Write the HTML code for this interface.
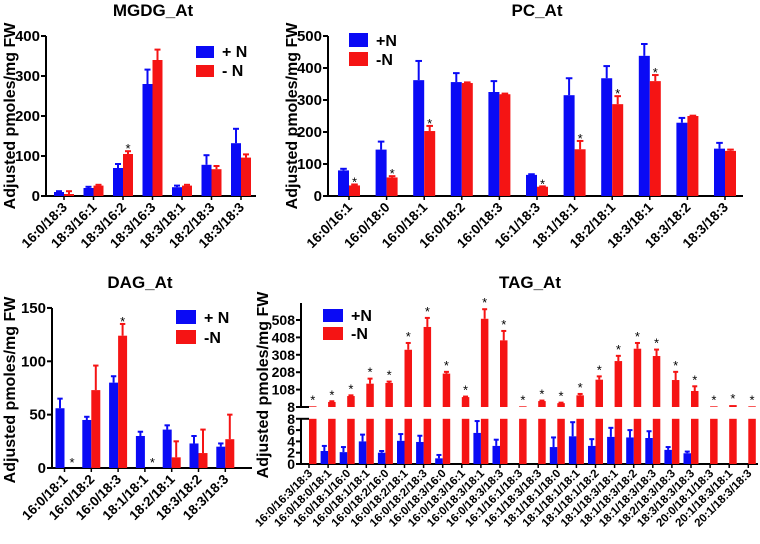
<!DOCTYPE html>
<html><head><meta charset="utf-8"><style>
html,body{margin:0;padding:0;background:#fff;}
svg{display:block;font-family:"Liberation Sans",Arial,sans-serif;font-weight:bold;}
</style></head><body>
<svg id="fig" width="760" height="544" viewBox="0 0 760 544" xmlns="http://www.w3.org/2000/svg"></svg>
<script>
// ---------- MGDG ----------
const mgdgCats = ["16:0/18:3","18:3/16:1","18:3/16:2","18:3/16:3","18:3/18:1","18:2/18:3","18:3/18:3"];
const mgdgPlus = [10,20,70,280,22,78,132];
const mgdgPlusErr = [2,3,10,36,4,24,36];
const mgdgMinus = [5,26,105,340,26,67,96];
const mgdgMinusErr = [7,2,7,26,2,8,8];
const mgdgStars = [0,0,1,0,0,0,0];
const mgdgTicks = [0,100,200,300,400];
// ---------- PC ----------
const pcCats = ["16:0/16:1","16:0/18:0","16:0/18:1","16:0/18:2","16:0/18:3","16:1/18:3","18:1/18:1","18:2/18:1","18:3/18:1","18:3/18:2","18:3/18:3"];
const pcPlus = [80,145,362,356,325,66,315,368,438,229,148];
const pcPlusErr = [5,25,60,28,34,2,53,38,37,15,18];
const pcMinus = [33,58,203,353,318,29,146,287,359,250,141];
const pcMinusErr = [3,4,16,2,2,1,26,25,19,1,4];
const pcStars = [1,1,1,0,0,1,1,1,1,0,0];
const pcTicks = [0,100,200,300,400,500];
// ---------- DAG ----------
const dagCats = ["16:0/18:1","16:0/18:2","16:0/18:3","18:1/18:1","18:2/18:1","18:3/18:2","18:3/18:3"];
const dagPlus = [56,45,80,30,36,23,20];
const dagPlusErr = [9,3,6,4,4,7,3];
const dagMinus = [0,73,124,0,10,14,27];
const dagMinusErr = [0,23,11,0,15,22,23];
const dagStars = [1,0,1,1,0,0,0];
const dagTicks = [0,50,100,150];
// ---------- TAG ----------
const tagCats = ["16:0/16:3/18:3","16:0/18:0/18:1","16:0/18:1/16:0","16:0/18:1/18:1","16:0/18:2/16:0","16:0/18:2/18:1","16:0/18:2/18:3","16:0/18:3/16:0","16:0/18:3/16:1","16:0/18:3/18:1","16:0/18:3/18:3","16:1/16:1/18:3","16:1/18:3/18:3","18:1/18:1/18:0","18:1/18:1/18:1","18:1/18:1/18:2","18:1/18:3/18:1","18:1/18:3/18:2","18:1/18:3/18:3","18:2/18:3/18:3","18:3/18:3/18:3","20:0/18:1/18:3","20:1/18:3/18:1","20:1/18:3/18:3"];
const tagPlus = [0,2.3,2.1,4.0,2.0,4.1,3.9,1.0,0,5.5,3.2,0,0,3.0,4.9,3.2,4.8,4.7,4.6,2.5,1.9,0,0,0];
const tagPlusErr = [0,0.9,0.9,1.2,0.3,1.2,1.1,0.6,0,2.1,1.1,0,0,1.7,2.5,1.2,1.6,1.3,1.2,0.5,0.3,0,0,0];
const tagMinus = [12,37,71,142,146,337,468,200,65,515,391,12,42,30,75,165,272,343,301,163,100,12,19,12];
const tagMinusErr = [0,4,4,29,8,39,52,10,3,55,54,0,3,3,8,19,30,33,37,47,27,0,0,0];
const tagTopTicks = [8,108,208,308,408,508];
const tagBotTicks = [0,2,4,6,8];

const NS="http://www.w3.org/2000/svg";
const svg=document.getElementById('fig');
const BLUE="#0a0af5", RED="#f51414";
function mk(tag,attrs,parent){const e=document.createElementNS(NS,tag);for(const k in attrs)e.setAttribute(k,attrs[k]);(parent||svg).appendChild(e);return e;}
function txt(s,attrs,parent){const e=mk('text',attrs,parent);e.textContent=s;return e;}

function errBar(g,x,y0,y1,w,color){
  mk('line',{x1:x,y1:y0,x2:x,y2:y1,stroke:color,'stroke-width':2},g);
  mk('line',{x1:x-w/2,y1:y1,x2:x+w/2,y2:y1,stroke:color,'stroke-width':2},g);
}

function panel(o){
  const g=mk('g',{});
  
  
  const ys=v=>o.y0-(v-o.vmin)*o.k;
  const xs=i=>o.xc0+o.step*i;
  const t=txt(o.title,{x:o.titleX,y:o.titleY,'font-size':17,'text-anchor':'middle'},g);
  
  
  const yl=txt("Adjusted pmoles/mg FW",{x:0,y:0,'font-size':16,'text-anchor':'middle',transform:`translate(${o.ylx},${o.yly}) rotate(-90)`},g);
  
  
  mk('line',{x1:o.ax,y1:ys(o.ticks[o.ticks.length-1]),x2:o.ax,y2:o.y0+1,stroke:'#000','stroke-width':2},g);
  mk('line',{x1:o.ax-1,y1:o.y0,x2:o.axEnd,y2:o.y0,stroke:'#000','stroke-width':2},g);
  o.ticks.forEach(v=>{
    mk('line',{x1:o.ax-5,y1:ys(v),x2:o.ax,y2:ys(v),stroke:'#000','stroke-width':2},g);
    const tl=txt(String(v),{x:o.ax-6,y:ys(v)+5,'font-size':15,'text-anchor':'end'},g);
    
    
  });
  o.cats.forEach((c,i)=>{
    const cx=xs(i);
    mk('line',{x1:cx,y1:o.y0,x2:cx,y2:o.y0+4,stroke:'#000','stroke-width':1.5},g);
    const lab=txt(c,{x:0,y:0,'font-size':o.fs,'text-anchor':'end',transform:`translate(${cx+4},${o.y0+12}) rotate(-45)`},g);
    
    
    const bw=o.bw;
    if(o.plus[i]>0){
      const r=mk('rect',{x:cx-bw,y:ys(o.plus[i]),width:bw,height:o.y0-ys(o.plus[i]),fill:BLUE},g);
      
      
      if(o.plusErr[i]>0)errBar(g,cx-bw/2,ys(o.plus[i]),ys(o.plus[i]+o.plusErr[i]),bw*0.6,BLUE);
    }
    if(o.minus[i]>0){
      const r=mk('rect',{x:cx,y:ys(o.minus[i]),width:bw,height:o.y0-ys(o.minus[i]),fill:RED},g);
      
      
      if(o.minusErr[i]>0)errBar(g,cx+bw/2,ys(o.minus[i]),ys(o.minus[i]+o.minusErr[i]),bw*0.6,RED);
    }
    if(o.stars[i]){
      const top=o.minus[i]>0?ys(o.minus[i]+o.minusErr[i])-6:o.y0-9;
      const s=txt("*",{x:cx+bw/2+(o.minus[i]>0?0:3),y:top+8,'font-size':13,'font-weight':'normal','text-anchor':'middle'},g);
      
      
    }
  });
  legend(g,o.name,o.lx,o.ly,o.lw,o.lh,o.lgap,o.l1,o.l2);
}
function legend(g,name,x,y,w,h,gap,l1,l2){
  const lg=mk('g',{},g);
  
  
  mk('rect',{x:x,y:y,width:w,height:h,fill:BLUE},lg);
  txt(l1,{x:x+w+8,y:y+h-1,'font-size':16},lg);
  mk('rect',{x:x,y:y+gap,width:w,height:h,fill:RED},lg);
  txt(l2,{x:x+w+8,y:y+gap+h-1,'font-size':16},lg);
}

panel({name:'mgdg',title:'MGDG_At',titleX:153,titleY:16,ylx:15,yly:116,cats:mgdgCats,plus:mgdgPlus,plusErr:mgdgPlusErr,minus:mgdgMinus,minusErr:mgdgMinusErr,stars:mgdgStars,ticks:mgdgTicks,
  vmin:0,y0:196,k:0.4,ax:46,axEnd:256,xc0:64,step:29.5,bw:10,fs:13.5,lx:196,ly:46,lw:18,lh:12,lgap:19,l1:'+ N',l2:'- N'});
panel({name:'pc',title:'PC_At',titleX:537,titleY:16,ylx:297,yly:116,cats:pcCats,plus:pcPlus,plusErr:pcPlusErr,minus:pcMinus,minusErr:pcMinusErr,stars:pcStars,ticks:pcTicks,
  vmin:0,y0:196,k:0.32,ax:328,axEnd:743,xc0:349,step:37.6,bw:11,fs:13.5,lx:349,ly:33,lw:19,lh:14,lgap:19,l1:'+N',l2:'-N'});
panel({name:'dag',title:'DAG_At',titleX:140,titleY:288,ylx:15,yly:390,cats:dagCats,plus:dagPlus,plusErr:dagPlusErr,minus:dagMinus,minusErr:dagMinusErr,stars:dagStars,ticks:dagTicks,
  vmin:0,y0:468,k:1.067,ax:52,axEnd:252,xc0:64.5,step:26.8,bw:9,fs:13.5,lx:176,ly:310,lw:20,lh:14,lgap:20,l1:'+ N',l2:'-N'});

// ---------- TAG (broken axis) ----------
(function(){
  const g=mk('g',{});
  
  
  const ax=301, axEnd=758, yTop0=407, kTop=0.174, yBot0=464, kBot=5.65;
  const yt=v=>yTop0-(v-8)*kTop;
  const yb=v=>yBot0-v*kBot;
  const xs=i=>309+19.1*i;
  const bw=7.5;
  const t=txt('TAG_At',{x:530,y:288,'font-size':17,'text-anchor':'middle'},g);
  
  
  const yl=txt("Adjusted pmoles/mg FW",{x:0,y:0,'font-size':16,'text-anchor':'middle',transform:'translate(268,385) rotate(-90)'},g);
  
  
  mk('line',{x1:ax,y1:303,x2:ax,y2:yTop0,stroke:'#000','stroke-width':2},g);
  mk('line',{x1:ax,y1:yTop0,x2:ax+8,y2:yTop0,stroke:'#000','stroke-width':2},g);
  mk('line',{x1:ax,y1:yb(8),x2:ax,y2:yBot0+1,stroke:'#000','stroke-width':2},g);
  mk('line',{x1:ax,y1:yb(8),x2:ax+8,y2:yb(8),stroke:'#000','stroke-width':2},g);
  mk('line',{x1:ax-1,y1:yBot0,x2:axEnd,y2:yBot0,stroke:'#000','stroke-width':2},g);
  tagTopTicks.forEach(v=>{
    mk('line',{x1:ax-5,y1:yt(v),x2:ax,y2:yt(v),stroke:'#000','stroke-width':2},g);
    const l=txt(String(v),{x:ax-6,y:yt(v)+5,'font-size':14,'text-anchor':'end'},g);
    
    
  });
  tagBotTicks.forEach(v=>{
    mk('line',{x1:ax-5,y1:yb(v),x2:ax,y2:yb(v),stroke:'#000','stroke-width':2},g);
    const l=txt(String(v),{x:ax-6,y:yb(v)+5,'font-size':14,'text-anchor':'end'},g);
    
    
  });
  tagCats.forEach((c,i)=>{
    const cx=xs(i);
    mk('line',{x1:cx,y1:yBot0,x2:cx,y2:yBot0+4,stroke:'#000','stroke-width':1.5},g);
    const lab=txt(c,{x:0,y:0,'font-size':11.5,'text-anchor':'end',transform:`translate(${cx+4},${yBot0+10}) rotate(-45)`},g);
    
    
    const r=mk('rect',{x:cx,y:yt(tagMinus[i]),width:bw,height:yTop0-yt(tagMinus[i]),fill:RED},g);
    
    
    if(tagMinusErr[i]>0)errBar(g,cx+bw/2,yt(tagMinus[i]),yt(tagMinus[i]+tagMinusErr[i]),5,RED);
    const s=txt("*",{x:cx+bw/2,y:yt(tagMinus[i]+tagMinusErr[i])-2,'font-size':13,'font-weight':'normal','text-anchor':'middle'},g);
    
    
    const rb=mk('rect',{x:cx,y:yb(8),width:bw,height:yBot0-yb(8),fill:RED},g);
    
    
    if(tagPlus[i]>0){
      const b=mk('rect',{x:cx-bw,y:yb(tagPlus[i]),width:bw,height:yBot0-yb(tagPlus[i]),fill:BLUE},g);
      
      
      errBar(g,cx-bw/2,yb(tagPlus[i]),yb(tagPlus[i]+tagPlusErr[i]),5,BLUE);
    }
  });
  legend(g,'tag',323,309,20,13,18,'+N','-N');
})();
</script>
</body></html>
